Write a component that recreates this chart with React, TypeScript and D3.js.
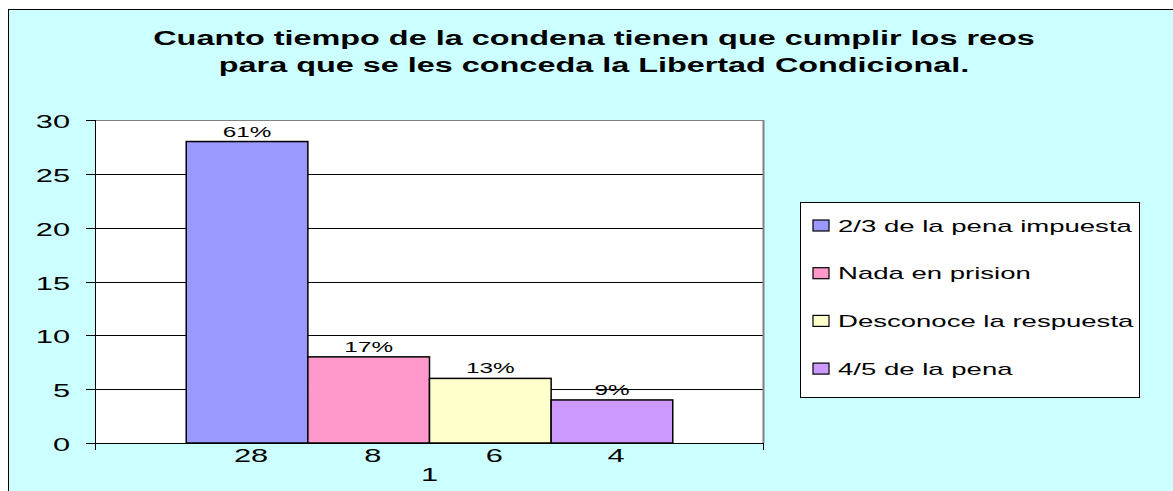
import React from 'react';
import * as d3 from 'd3';

const WIDTH = 1173;
const HEIGHT = 491;
const PLOT = { left: 95, top: 120, right: 764, bottom: 443 };
const SX = 1.62; // the original picture is stretched horizontally
const FONT = '"Liberation Sans", Arial, sans-serif';

const titleLines = [
  'Cuanto tiempo de la condena tienen que cumplir los reos',
  'para que se les conceda la Libertad Condicional.',
];
const categories = ['1'];
const seriesNames = [
  '2/3 de la pena impuesta',
  'Nada en prision',
  'Desconoce la respuesta',
  '4/5 de la pena',
];
const seriesValues = [28, 8, 6, 4];
const percentLabels = ['61%', '17%', '13%', '9%'];
const yTicks = [0, 5, 10, 15, 20, 25, 30];

const COLORS = ['#9999FF', '#FF99CC', '#FFFFCC', '#CC99FF'];

const SText = ({ x, y, size, anchor = 'middle', weight = 'normal', children }: any) => (
  <text
    transform={`translate(${x},${y}) scale(${SX},1)`}
    fontSize={size}
    fontFamily={FONT}
    fontWeight={weight}
    textAnchor={anchor}
    fill="#000"
  >
    {children}
  </text>
);

const App = () => {
  const plotW = PLOT.right - PLOT.left;
  const plotH = PLOT.bottom - PLOT.top;

  const yScale = d3.scaleLinear().domain([0, 30]).range([plotH, 0]);

  // Excel gap width 150% -> 0.75 bar width of padding on each side of the group
  const x0 = d3
    .scaleBand()
    .domain(categories)
    .range([0, plotW])
    .paddingInner(0)
    .paddingOuter(0.75 / seriesNames.length);
  const x1 = d3
    .scaleBand()
    .domain(seriesNames)
    .range([0, x0.bandwidth()]);

  const groupX = x0(categories[0]) || 0;

  return (
    <svg
      width={WIDTH}
      height={HEIGHT}
      style={{ position: 'absolute', left: 0, top: 0 }}
    >
      <rect x={0} y={0} width={WIDTH} height={HEIGHT} fill="#fff" />
      <rect
        x={8.5}
        y={9.5}
        width={WIDTH + 10}
        height={HEIGHT + 10}
        fill="#CCFFFF"
        stroke="#000"
        strokeWidth={1}
      />

      {titleLines.map((line, i) => (
        <SText key={i} x={594} y={45 + i * 27} size={20} weight="bold">
          {line}
        </SText>
      ))}

      <g transform={`translate(${PLOT.left},${PLOT.top})`}>
        <rect x={0} y={0} width={plotW} height={plotH} fill="#fff" />
        {yTicks.map((t) => (
          <line
            key={t}
            x1={0}
            x2={plotW}
            y1={Math.round(yScale(t)) + 0.5}
            y2={Math.round(yScale(t)) + 0.5}
            stroke="#000"
            strokeWidth={1}
          />
        ))}
        <line x1={0} x2={plotW} y1={0.5} y2={0.5} stroke="#808080" />
        <line x1={plotW - 0.5} x2={plotW - 0.5} y1={0} y2={plotH} stroke="#808080" strokeWidth={2} />

        {seriesNames.map((s, i) => {
          const bx = groupX + (x1(s) || 0);
          const by = yScale(seriesValues[i]);
          return (
            <g key={s}>
              <rect
                x={bx}
                y={by}
                width={x1.bandwidth()}
                height={plotH - by}
                fill={COLORS[i]}
                stroke="#000"
                strokeWidth={1.5}
              />
              <SText x={bx + x1.bandwidth() / 2} y={by - 5} size={15}>
                {percentLabels[i]}
              </SText>
              <SText x={bx + x1.bandwidth() / 2 + 4} y={plotH + 19} size={19}>
                {seriesValues[i]}
              </SText>
            </g>
          );
        })}

        {/* y axis */}
        <line x1={0.5} x2={0.5} y1={0} y2={plotH + 7} stroke="#000" />
        {yTicks.map((t) => (
          <g key={t} transform={`translate(0,${Math.round(yScale(t)) + 0.5})`}>
            <line x1={-9} x2={0} stroke="#000" />
            <SText x={-25} y={7} size={19} anchor="end">
              {t}
            </SText>
          </g>
        ))}
        {/* x axis */}
        <line x1={0} x2={plotW} y1={plotH + 0.5} y2={plotH + 0.5} stroke="#000" />
        <line x1={plotW - 0.5} x2={plotW - 0.5} y1={plotH} y2={plotH + 7} stroke="#000" />
        {categories.map((c) => (
          <SText key={c} x={(x0(c) || 0) + x0.bandwidth() / 2} y={plotH + 38} size={19}>
            {c}
          </SText>
        ))}
      </g>

      {/* legend */}
      <g transform="translate(800,202)">
        <rect x={0.5} y={0.5} width={339} height={195} fill="#fff" stroke="#000" />
        {seriesNames.map((s, i) => (
          <g key={s} transform={`translate(0,${23.5 + i * 47.7})`}>
            <rect x={13} y={-5.5} width={16} height={11} fill={COLORS[i]} stroke="#000" strokeWidth={1.2} />
            <SText x={38} y={6} size={17} anchor="start">
              {s}
            </SText>
          </g>
        ))}
      </g>
    </svg>
  );
};

export default App;
